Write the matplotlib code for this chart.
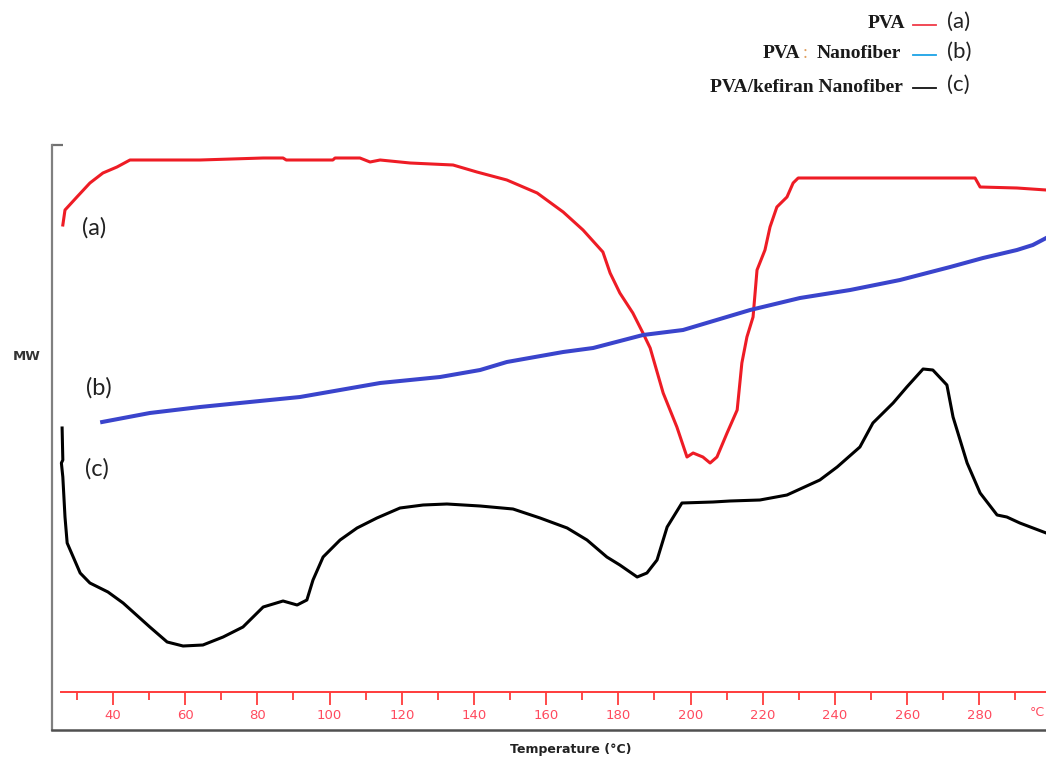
import matplotlib
matplotlib.use("Agg")
import matplotlib.pyplot as plt
from matplotlib.lines import Line2D

# --- DSC traces (arbitrary heat-flow units) ---
temp_a = [26.1, 26.7, 30.0, 33.6, 37.2, 41.1, 44.7, 64.1, 81.6, 87.1, 88.0, 100.9,
          101.5, 108.4, 111.2, 114.0, 122.3, 134.2, 140.8, 149.1, 157.5, 164.7,
          170.2, 175.7, 177.7, 180.4, 184.0, 186.8, 188.8, 192.4, 196.2, 199.0,
          200.7, 203.4, 205.4, 207.3, 210.1, 212.9, 214.2, 215.6, 217.3, 218.4,
          220.6, 222.0, 223.9, 226.7, 228.4, 229.8, 278.8, 280.2, 290.4, 298.5]
mw_a = [505, 520, 533, 547, 557, 563, 570, 570, 572, 572, 570, 570,
        572, 572, 568, 570, 567, 565, 558, 550, 537, 518,
        500, 478, 457, 437, 417, 397, 382, 337, 303, 273,
        277, 273, 267, 273, 297, 320, 367, 393, 413, 460,
        480, 503, 523, 533, 547, 552, 552, 543, 542, 540]

temp_b = [37.0, 50.2, 64.1, 77.9, 91.8, 114.0, 130.6, 141.7, 149.1, 164.7, 173.0,
          186.8, 197.9, 216.5, 230.3, 244.2, 258.0, 271.9, 281.0, 290.4, 294.8, 298.5]
mw_b = [308, 317, 323, 328, 333, 347, 353, 360, 368, 378, 382,
        395, 400, 420, 432, 440, 450, 463, 472, 480, 485, 492]

temp_c = [25.9, 26.1, 25.7, 26.1, 26.7, 27.3, 30.9, 33.6, 38.6, 42.8, 50.2, 55.0,
          59.4, 64.9, 70.5, 76.0, 81.6, 87.1, 91.0, 93.7, 95.4, 98.2, 102.9,
          107.6, 113.1, 119.5, 125.9, 132.5, 141.7, 150.8, 158.3, 165.8, 171.3,
          176.8, 180.4, 185.2, 187.9, 190.7, 193.5, 197.6, 206.2, 210.9, 219.2,
          226.7, 235.8, 240.6, 246.9, 250.5, 256.1, 259.9, 264.4, 267.1, 271.0,
          272.7, 276.6, 280.2, 284.9, 287.6, 291.2, 298.5]
mw_c = [302, 270, 267, 253, 213, 187, 157, 147, 138, 127, 103, 88,
        84, 85, 93, 103, 123, 129, 125, 130, 150, 173, 190,
        202, 212, 222, 225, 226, 224, 221, 212, 202, 190,
        173, 165, 153, 157, 170, 203, 227, 228, 229, 230,
        235, 250, 263, 283, 307, 327, 343, 361, 360, 345,
        313, 267, 237, 215, 213, 207, 197]

major_ticks = list(range(40, 281, 20))
minor_ticks = list(range(30, 291, 20))

legend_names = ["PVA", "Nanofiber", "PVA/kefiran Nanofiber"]
legend_tags = ["(a)", "(b)", "(c)"]
legend_colors = ["#f03a48", "#1ba3e6", "#111111"]

W, H = 1046, 760
fig = plt.figure(figsize=(W / 100, H / 100), dpi=100)

# main plot area (left spine at 52px, bottom frame at 730px, top tick at 145px)
ax = fig.add_axes([52 / W, 30 / H, 1 - 52 / W, 585 / H])
ax.plot(temp_a, mw_a, color="#ee1c25", lw=2.2)
ax.plot(temp_b, mw_b, color="#3a44cc", lw=2.9)
ax.plot(temp_c, mw_c, color="black", lw=2.2)
ax.set_xlim(23.1, 298.45)
ax.set_ylim(0, 585)
ax.spines["top"].set_visible(False)
ax.spines["right"].set_visible(False)
ax.spines["left"].set_color("#808080")
ax.spines["left"].set_linewidth(1.6)
ax.spines["bottom"].set_color("#505050")
ax.spines["bottom"].set_linewidth(1.8)
ax.set_xticks([])
ax.set_yticks([585])
ax.tick_params(axis="y", direction="in", length=8, width=1.6, color="#707070",
               labelleft=False)

lab_font = dict(family="Lato", fontsize=17, color="#222222", ha="center", va="center")
fig.text(94 / W, 1 - 228 / H, "(a)", **lab_font)
fig.text(99 / W, 1 - 388 / H, "(b)", **lab_font)
fig.text(97 / W, 1 - 469 / H, "(c)", **lab_font)

# red temperature axis
ax2 = fig.add_axes([61 / W, 1 - 692 / H, 1 - 61 / W, 20 / H])
ax2.patch.set_alpha(0)
for s in ["top", "right", "left"]:
    ax2.spines[s].set_visible(False)
ax2.spines["bottom"].set_color("#ff3b3b")
ax2.spines["bottom"].set_linewidth(1.4)
ax2.set_xlim(25.6, 298.45)
ax2.set_yticks([])
ax2.set_xticks(major_ticks)
ax2.set_xticks(minor_ticks, minor=True)
ax2.tick_params(axis="x", which="major", direction="out", length=9, width=1.3,
                color="#ff3b3b", labelcolor="#ff4a5e", labelsize=9.5, pad=3)
ax2.tick_params(axis="x", which="minor", direction="out", length=6, width=1.3,
                color="#ff3b3b")
fig.text(1030 / W, 1 - 713 / H, "°C", color="#ff4a5e", fontsize=9,
         va="center", ha="left")

# axis titles
fig.text(27 / W, 1 - 356 / H, "MW", fontsize=9.5, fontweight="bold",
         color="#333333", ha="center", va="center")
fig.text(571 / W, 1 - 750 / H, "Temperature (°C)", fontsize=9, fontweight="bold",
         color="#222222", ha="center", va="center")

# legend, top right
ser = dict(family="Liberation Serif", fontweight="bold", fontsize=14,
           color="#1a1a1a", va="center")
rows_y = [24, 54, 87]
fig.text(905 / W, 1 - rows_y[0] / H, legend_names[0], ha="right", **ser)
fig.text(901 / W, 1 - rows_y[1] / H, legend_names[1], ha="right", **ser)
fig.text(805 / W, 1 - rows_y[1] / H, ":", ha="center", family="Liberation Serif",
         fontsize=13, color="#e0a060", va="center")
fig.text(800 / W, 1 - rows_y[1] / H, "PVA", ha="right", **ser)
fig.text(903 / W, 1 - rows_y[2] / H, legend_names[2], ha="right", **ser)
for y, c, tag in zip(rows_y, legend_colors, legend_tags):
    yy = 1 - (y + 1) / H
    fig.add_artist(Line2D([913 / W, 936 / W], [yy, yy], color=c, lw=1.3))
    fig.text(947 / W, 1 - (y - 2) / H, tag, family="Lato", fontsize=16,
             color="#222222", ha="left", va="center")

fig.savefig("out.png", dpi=100)
